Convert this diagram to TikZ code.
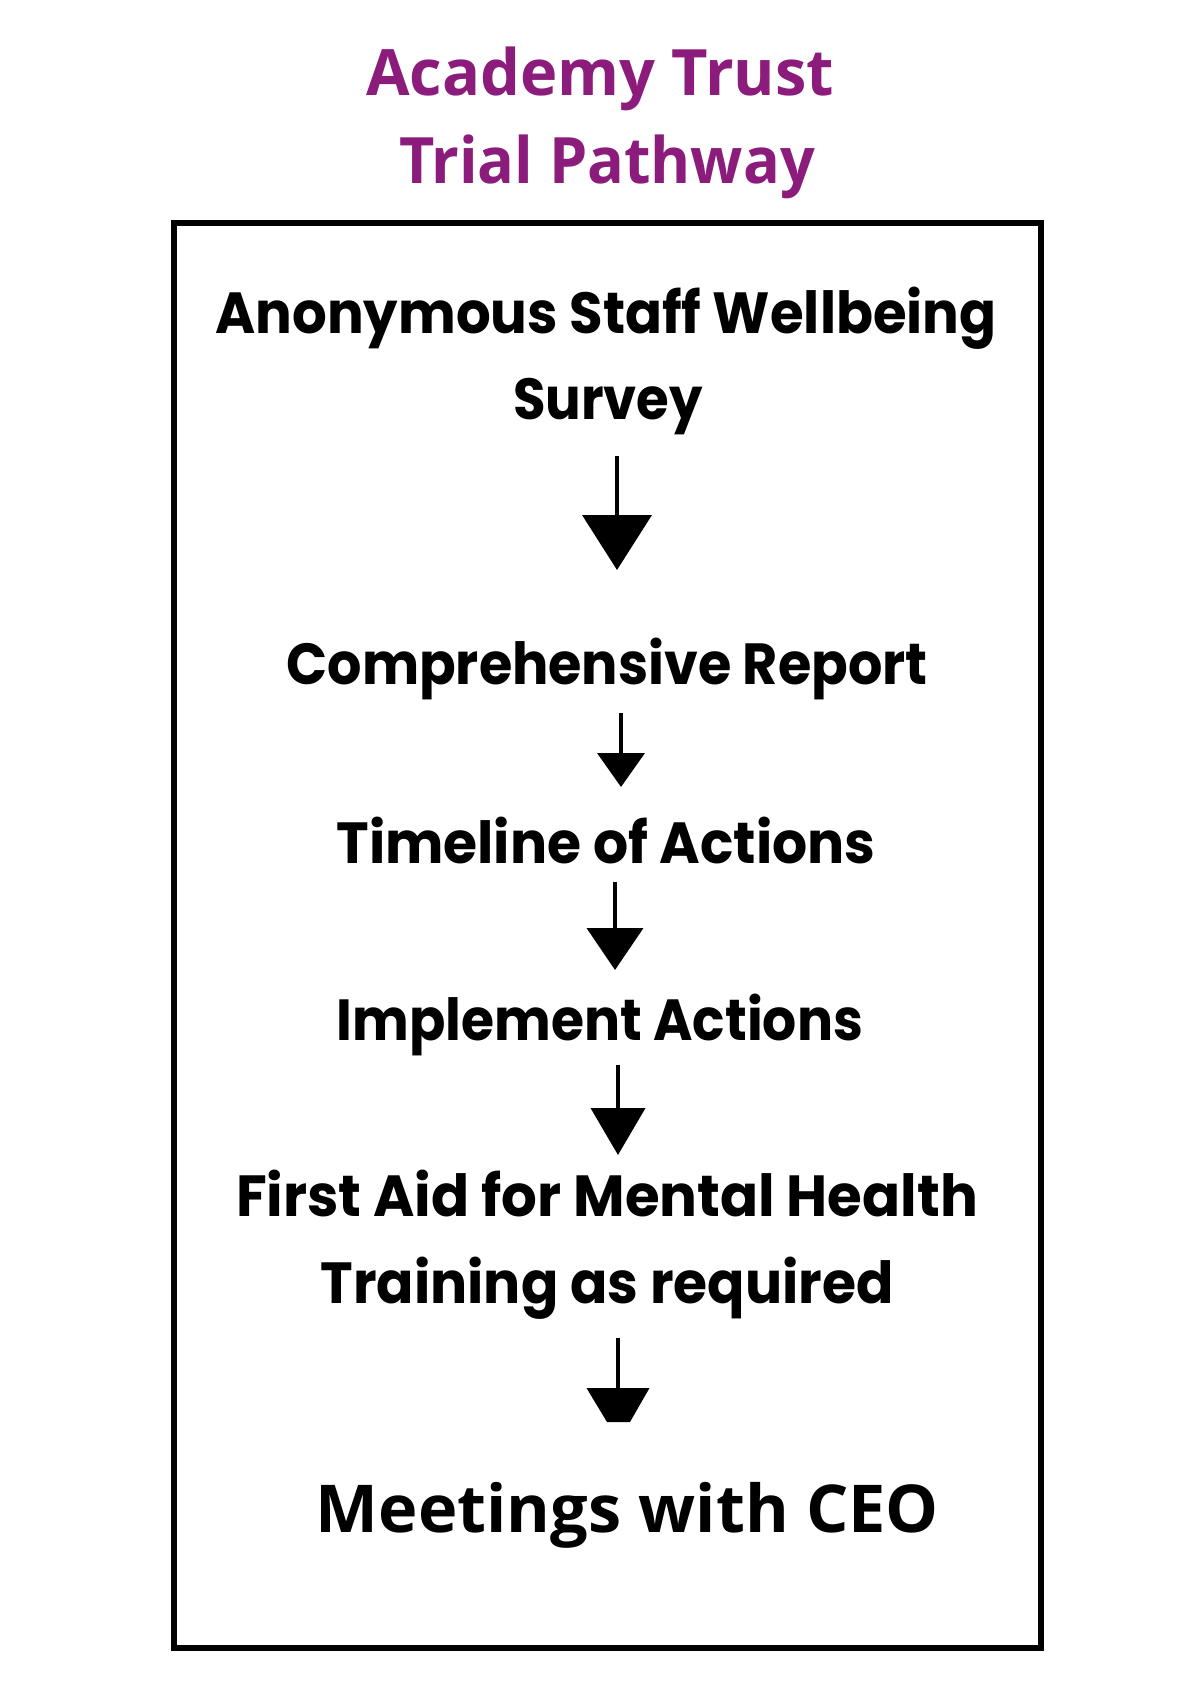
\documentclass[tikz,border=0pt]{standalone}
\usepackage{fontspec}
\usepackage{graphicx}
\setmainfont{Poppins}
\newfontfamily\titlefont{Open Sans}
\newfontfamily\ceofont{Open Sans}
\usetikzlibrary{arrows.meta}
\definecolor{trustpurple}{RGB}{140,28,124}
\newcommand\fitw[2]{\resizebox{#1pt}{\height}{#2}}
\begin{document}
\begin{tikzpicture}[x=1pt,y=-1pt,
  titletext/.style={anchor=base, inner sep=0pt, text=trustpurple,
    font=\titlefont\bfseries\fontsize{64pt}{70pt}\selectfont},
  steptext/.style={anchor=base, inner sep=0pt, text=black,
    font=\bfseries\fontsize{58pt}{64pt}\selectfont},
  ceotext/.style={anchor=base, inner sep=0pt, text=black,
    font=\ceofont\bfseries\fontsize{66pt}{72pt}\selectfont},
  frame/.style={draw=black, line width=6pt, inner sep=0pt, outer sep=0pt},
  shaft/.style={draw=black, line width=4pt}
]
\useasboundingbox (0,0) rectangle (1200,1697);
\fill[white] (0,0) rectangle (1200,1697);

% title
\node[titletext] (t1) at (600,95) {\fitw{468}{Academy Trust}};
\node[titletext] (t2) at (607,183) {\fitw{416}{Trial Pathway}};

% frame
\node[frame, minimum width=867pt, minimum height=1425pt] (box) at (607.5,935.5) {};

% steps
\node[steptext] (s1a) at (606,333) {\fitw{781}{Anonymous Staff Wellbeing}};
\node[steptext] (s1b) at (608,419) {\fitw{190}{Survey}};
\node[steptext] (s2) at (607,684) {\fitw{641}{Comprehensive Report}};
\node[steptext] (s3) at (606,863) {\fitw{539}{Timeline of Actions}};
\node[steptext] (s4) at (600,1040) {\fitw{526}{Implement Actions}};
\node[steptext] (s5a) at (607,1216) {\fitw{742}{First Aid for Mental Health}};
\node[steptext] (s5b) at (607,1303) {\fitw{573}{Training as required}};
\node[ceotext] (s6) at (627.5,1532) {\fitw{623}{Meetings with CEO}};

% arrow end points
\coordinate (a1s) at (617,456);  \coordinate (a1e) at (617,570);
\coordinate (a2s) at (621,713);  \coordinate (a2e) at (621,787);
\coordinate (a3s) at (615,882);  \coordinate (a3e) at (615,970);
\coordinate (a4s) at (618,1065); \coordinate (a4e) at (618,1155);
\coordinate (a5s) at (618,1338); \coordinate (a5e) at (618,1389);

\draw[shaft, -{Triangle[width=69pt,length=55pt]}] (a1s) -- (a1e);
\draw[shaft, -{Triangle[width=47pt,length=34pt]}] (a2s) -- (a2e);
\draw[shaft, -{Triangle[width=56pt,length=42pt]}] (a3s) -- (a3e);
\draw[shaft, -{Triangle[width=54pt,length=47pt]}] (a4s) -- (a4e);
\draw[shaft] (a5s) -- (a5e);
\fill[black] (a5e) ++(-31.5,-1) -- ++(63,0) -- ++(-19.5,34) -- ++(-23,0) -- cycle;
\end{tikzpicture}
\end{document}
